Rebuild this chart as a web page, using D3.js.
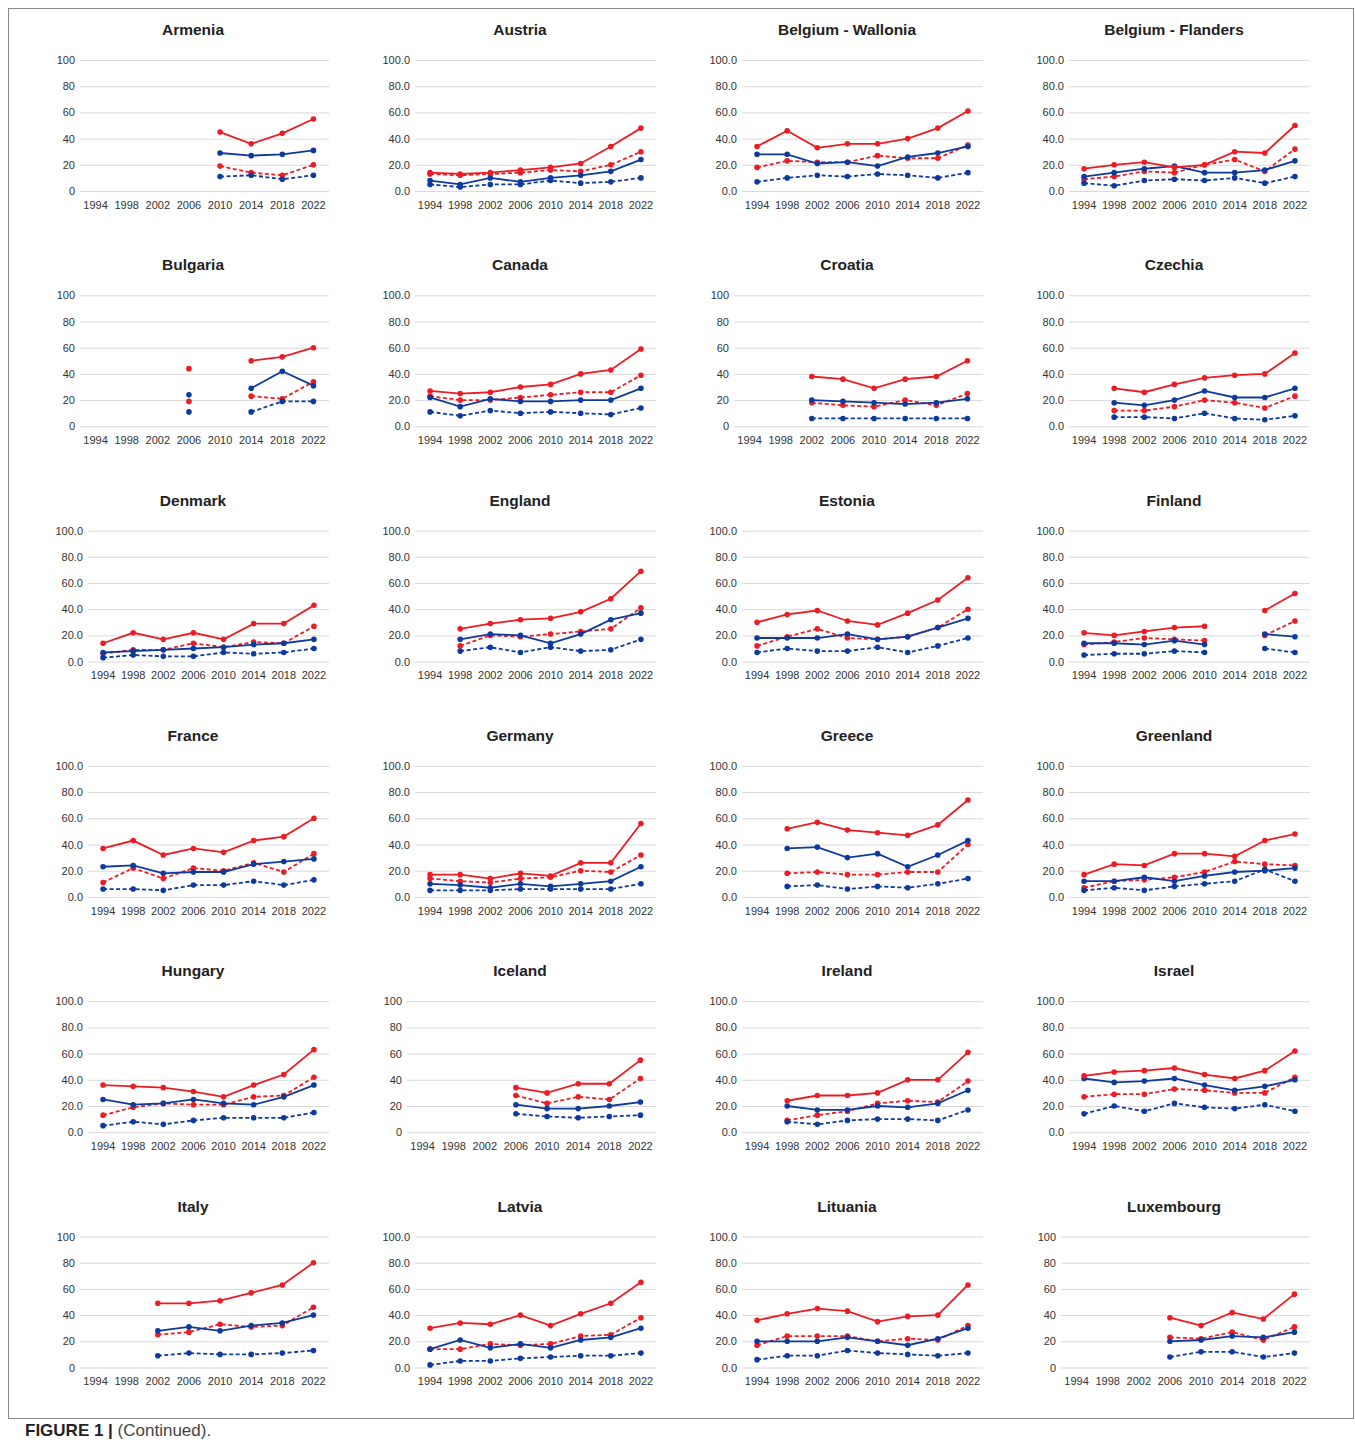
<!DOCTYPE html>
<html><head><meta charset="utf-8">
<script src="https://cdn.jsdelivr.net/npm/d3@7"></script>
<style>body{margin:0;background:#fff;font-family:"Liberation Sans",Arial,sans-serif}</style>
</head><body>
<script>
var years = ["1994","1998","2002","2006","2010","2014","2018","2022"];
var N = null;
// series order: red solid, red dashed, blue solid, blue dashed
var countries = ["Armenia","Austria","Belgium - Wallonia","Belgium - Flanders","Bulgaria","Canada","Croatia","Czechia","Denmark","England","Estonia","Finland","France","Germany","Greece","Greenland","Hungary","Iceland","Ireland","Israel","Italy","Latvia","Lituania","Luxembourg"];
var shortLabels = ["Armenia","Bulgaria","Croatia","Iceland","Italy","Luxembourg"];
var redSolid = [
 [N,N,N,N,45,36,44,55],[14,13,14,16,18,21,34,48],[34,46,33,36,36,40,48,61],[17,20,22,18,20,30,29,50],
 [N,N,N,44,N,50,53,60],[27,25,26,30,32,40,43,59],[N,N,38,36,29,36,38,50],[N,29,26,32,37,39,40,56],
 [14,22,17,22,17,29,29,43],[N,25,29,32,33,38,48,69],[30,36,39,31,28,37,47,64],[22,20,23,26,27,N,39,52],
 [37,43,32,37,34,43,46,60],[17,17,14,18,16,26,26,56],[N,52,57,51,49,47,55,74],[17,25,24,33,33,31,43,48],
 [36,35,34,31,27,36,44,63],[N,N,N,34,30,37,37,55],[N,24,28,28,30,40,40,61],[43,46,47,49,44,41,47,62],
 [N,N,49,49,51,57,63,80],[30,34,33,40,32,41,49,65],[36,41,45,43,35,39,40,63],[N,N,N,38,32,42,37,56]];
var redDashed = [
 [N,N,N,N,19,14,12,20],[13,12,13,14,16,15,20,30],[18,23,22,22,27,25,25,35],[9,11,15,14,20,24,15,32],
 [N,N,N,19,N,23,21,34],[23,20,20,22,24,26,26,39],[N,N,18,16,15,20,16,25],[N,12,12,15,20,18,14,23],
 [6,9,9,14,11,15,14,27],[N,12,20,19,21,23,25,41],[12,19,25,18,17,19,26,40],[13,15,18,17,16,N,20,31],
 [11,22,14,22,20,26,19,33],[14,12,11,14,15,20,19,32],[N,18,19,17,17,19,19,40],[7,12,13,15,19,27,25,24],
 [13,19,22,21,21,27,28,42],[N,N,N,28,22,27,25,41],[N,9,13,16,22,24,23,39],[27,29,29,33,32,30,30,42],
 [N,N,25,27,33,31,32,46],[14,14,18,17,18,24,25,38],[17,24,24,24,20,22,21,32],[N,N,N,23,22,27,21,31]];
var blueSolid = [
 [N,N,N,N,29,27,28,31],[8,5,10,7,10,12,15,24],[28,28,21,22,19,26,29,34],[11,14,17,19,14,14,16,23],
 [N,N,N,24,N,29,42,31],[22,15,21,19,19,20,20,29],[N,N,20,19,18,17,18,21],[N,18,16,20,27,22,22,29],
 [7,8,9,10,11,13,14,17],[N,17,21,20,14,21,32,37],[18,18,18,21,17,19,26,33],[14,14,13,16,13,N,21,19],
 [23,24,18,19,19,25,27,29],[10,9,7,10,8,10,12,23],[N,37,38,30,33,23,32,43],[12,12,15,12,16,19,20,22],
 [25,21,22,25,22,21,27,36],[N,N,N,21,18,18,20,23],[N,20,17,17,20,19,22,32],[41,38,39,41,36,32,35,40],
 [N,N,28,31,28,32,34,40],[14,21,15,18,15,21,23,30],[20,20,20,23,20,17,22,30],[N,N,N,20,21,24,23,27]];
var blueDashed = [
 [N,N,N,N,11,12,9,12],[5,3,5,5,8,6,7,10],[7,10,12,11,13,12,10,14],[6,4,8,9,8,10,6,11],
 [N,N,N,11,N,11,19,19],[11,8,12,10,11,10,9,14],[N,N,6,6,6,6,6,6],[N,7,7,6,10,6,5,8],
 [3,5,4,4,7,6,7,10],[N,8,11,7,11,8,9,17],[7,10,8,8,11,7,12,18],[5,6,6,8,7,N,10,7],
 [6,6,5,9,9,12,9,13],[5,5,5,6,6,6,6,10],[N,8,9,6,8,7,10,14],[5,7,5,8,10,12,21,12],
 [5,8,6,9,11,11,11,15],[N,N,N,14,12,11,12,13],[N,8,6,9,10,10,9,17],[14,20,16,22,19,18,21,16],
 [N,N,9,11,10,10,11,13],[2,5,5,7,8,9,9,11],[6,9,9,13,11,10,9,11],[N,N,N,8,12,12,8,11]];
var yTicks = [0,20,40,60,80,100];
var RED = "#ec1c24", BLUE = "#0d3a9c";

var svg = d3.select("body").append("svg").attr("width",1355).attr("height",1444);
svg.append("rect").attr("x",8.5).attr("y",8.5).attr("width",1345).attr("height",1410)
  .attr("fill","none").attr("stroke","#888").attr("stroke-width",1);

countries.forEach(function(name,i){
  var c = i%4, r = Math.floor(i/4);
  var px = 10 + c*327, ty = 30 + r*235.3;
  var isShort = shortLabels.indexOf(name) >= 0;
  var x = d3.scaleBand().domain(years).range([px+(isShort?70:78), px+319]);
  var y = d3.scaleLinear().domain([0,100]).range([ty+161, ty+30]);
  var g = svg.append("g");
  g.append("text").attr("x",px+183).attr("y",ty+5).attr("text-anchor","middle")
    .attr("font-size",15.5).attr("font-weight","bold").attr("fill","#222").text(name);
  var ya = g.append("g").attr("transform","translate("+x.range()[0]+",0)")
    .call(d3.axisLeft(y).tickValues(yTicks).tickSize(-(x.range()[1]-x.range()[0]))
      .tickFormat(function(d){return isShort? d : d.toFixed(1);}));
  ya.select(".domain").remove();
  ya.selectAll("line").attr("stroke","#d9d9d9");
  ya.selectAll("text").attr("font-size",11).attr("fill","#333").attr("font-family","Liberation Sans, Arial").attr("dx",-2);
  var xa = g.append("g").attr("transform","translate(0,"+(ty+161)+")").call(d3.axisBottom(x).tickSize(0));
  xa.select(".domain").remove();
  xa.selectAll("text").attr("font-size",11).attr("fill","#333").attr("font-family","Liberation Sans, Arial").attr("dy","1.35em");
  var series = [[redDashed[i],RED,true],[blueDashed[i],BLUE,true],[blueSolid[i],BLUE,false],[redSolid[i],RED,false]];
  series.forEach(function(s){
    var pts = years.map(function(yr,k){return {yr:yr,v:s[0][k]};});
    var line = d3.line().defined(function(d){return d.v!=null;})
      .x(function(d){return x(d.yr)+x.bandwidth()/2;}).y(function(d){return y(d.v);});
    g.append("path").datum(pts).attr("d",line).attr("fill","none").attr("stroke",s[1])
      .attr("stroke-width",1.8).attr("stroke-dasharray",s[2]?"4,2.5":null);
    g.selectAll(null).data(pts.filter(function(d){return d.v!=null;})).enter().append("circle")
      .attr("cx",function(d){return x(d.yr)+x.bandwidth()/2;}).attr("cy",function(d){return y(d.v);})
      .attr("r",2.8).attr("fill",s[1]);
  });
});
var cap = svg.append("text").attr("x",25).attr("y",1436).attr("font-size",17).attr("fill","#222");
cap.append("tspan").attr("font-weight","bold").text("FIGURE 1 | ");
cap.append("tspan").attr("fill","#444").text("(Continued).");
</script>
</body></html>
